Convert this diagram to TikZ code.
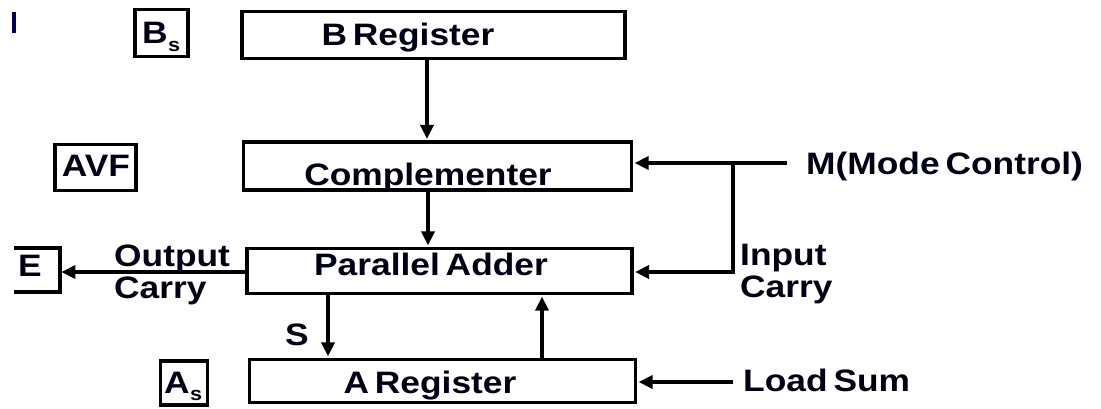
\documentclass[tikz,border=0pt]{standalone}
\usepackage{fontspec}
\newfontfamily\lblfont[FakeStretch=1.14,WordSpace=0.6]{Liberation Sans}
\usetikzlibrary{arrows.meta}
\begin{document}
\begin{tikzpicture}[x=1pt,y=-1pt,
  box/.style={draw, line width=3.8pt, inner sep=0pt},
  lbl/.style={font=\lblfont\bfseries\fontsize{31}{32}\selectfont, inner sep=0pt, text=black!92!blue},
  sub/.style={font=\lblfont\bfseries\fontsize{19}{19}\selectfont},
  conn/.style={line width=3.6pt, shorten >=1.2pt, -{Triangle[length=14pt,width=13pt]}},
  wire/.style={line width=3.6pt}]
\useasboundingbox (0,0) rectangle (1101,408);

% stray mark in the corner
\fill[blue!35!black] (12,12) rectangle (16,33);

% registers and functional blocks
\node[box, minimum width=383pt, minimum height=47pt] (breg) at (433.5,35) {};
\node[box, minimum width=388pt, minimum height=48pt] (comp) at (437.5,166) {};
\node[box, minimum width=385pt, minimum height=45pt] (padd) at (439.5,271) {};
\node[box, minimum width=386pt, minimum height=43pt] (areg) at (442.5,381) {};

\node[lbl, anchor=base] (brt) at (408,45) {B Register};
\node[lbl, anchor=base] (cmt) at (428,185) {Complementer};
\node[lbl, anchor=base] (pat) at (431,275) {Parallel Adder};
\node[lbl, anchor=base] (art) at (430,393) {A Register};

% flag flip-flops
\node[box, minimum width=53pt, minimum height=47pt] (bs) at (161.5,33) {};
\node[lbl, anchor=base west] (bst) at (142,43) {B};
\node[lbl, sub, anchor=base west] at (bst.base east) [yshift=-8pt] {s};
\node[box, minimum width=81pt, minimum height=46pt] (avf) at (95.5,167.5) {};
\node[lbl, anchor=base] (avft) at (96,176) {AVF};
\node[box, minimum width=47pt, minimum height=44pt] (as) at (184,383) {};
\node[lbl, anchor=base west] (ast) at (164,393) {A};
\node[lbl, sub, anchor=base west] at (ast.base east) [yshift=-7pt] {s};

% E flip-flop (open on the left)
\node[inner sep=0pt, minimum width=46pt, minimum height=43pt] (ebox) at (37,270) {};
\draw[wire, line width=3.8pt] (ebox.north west) -- (ebox.north east) -- (ebox.south east) -- (ebox.south west);
\node[lbl, anchor=base] (et) at (30,276) {E};

% vertical data paths
\coordinate (xb) at (427,0);
\coordinate (xc) at (428,0);
\coordinate (xs) at (328,0);
\coordinate (xa) at (542,0);
\draw[conn] (breg.south -| xb) -- (comp.north -| xb);
\draw[conn] (comp.south -| xc) -- (padd.north -| xc);
\draw[conn] (padd.south -| xs) -- (areg.north -| xs);
\draw[conn] (areg.north -| xa) -- (padd.south -| xa);
\node[lbl, anchor=base] (slbl) at (297,345) {S};

% output carry
\coordinate (yc) at (0,272);
\draw[conn] (padd.west |- yc) -- (ebox.east |- yc);
\node[lbl, anchor=north west, align=left] (oc) at (114,245) {Output\\Carry};

% mode control and input carry
\coordinate (mstart) at (787,163);
\coordinate (mj) at (733,163);
\node[lbl, anchor=base west] (mtxt) at (806,174) {M(Mode Control)};
\draw[conn] (mstart) -- (comp.east |- mstart);
\draw[wire] (mj) -- (mj |- yc);
\draw[conn] ([xshift=1.8pt]mj |- yc) -- (padd.east |- yc);
\node[lbl, anchor=north west, align=left] (ic) at (740,244) {Input\\Carry};

% load sum
\coordinate (ls) at (733,382);
\draw[conn] (ls) -- (areg.east |- ls);
\node[lbl, anchor=base west] (lstxt) at (743,391) {Load Sum};
\end{tikzpicture}
\end{document}
